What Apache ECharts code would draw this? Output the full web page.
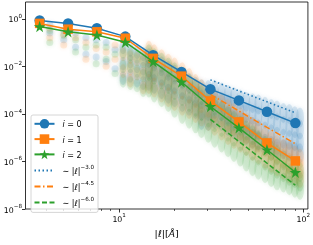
<!DOCTYPE html>
<html><head><meta charset="utf-8">
<script src="https://cdn.jsdelivr.net/npm/echarts@6/dist/echarts.min.js"></script>
<style>html,body{margin:0;padding:0;background:#fff}#c{width:313px;height:245px}</style>
</head><body><div id="c"></div><script>
// binned curves
const xBins = [3.7, 5.28, 7.57, 10.8, 15.3, 21.8, 31.3, 44.7, 63.5, 90.6];
const i0 = [0.85, 0.64, 0.40, 0.178, 0.0295, 0.0058, 0.0011, 3.7e-4, 1.23e-4, 4.1e-5];
const i1 = [0.64, 0.366, 0.283, 0.152, 0.0217, 0.00387, 3.5e-4, 4.6e-5, 6.0e-6, 1.05e-6];
const i2 = [0.47, 0.283, 0.208, 0.104, 0.0159, 0.0022, 2.05e-4, 2.6e-5, 3.1e-6, 3.5e-7];
// reference power laws
const refX = [31.3, 90.6];
const ref30 = [2.7e-3, 1.11e-4];
const ref45 = [6.6e-4, 5.5e-6];
const ref60 = [5.9e-5, 1.0e-7];
// ticks
const yTicks = [1e-8, 1e-6, 1e-4, 1e-2, 1];
const xTicks = [10, 100];
const xMinorTicks = [4, 5, 6, 7, 8, 9, 20, 30, 40, 50, 60, 70, 80, 90];
// background clouds (columns of points)
const cloudX = [4.2, 5, 5.8, 6.6, 7.5, 8.5, 9.5, 10.5, 11.5, 12.5, 13.5, 14.5, 15.5, 17, 18.5, 20, 22, 24, 26, 28, 30.5, 33, 36, 39, 42, 45.5, 49, 53, 57, 62, 67, 72, 78, 84, 90, 96];
const cloud0 = [
 [0.56, 0.25], [0.32, 0.13], [0.25, 0.063], [0.16, 0.032], [0.13, 0.025], [0.1, 0.016], [0.05, 0.008],
 [0.063, 0.013, 0.0032], [0.05, 0.016, 0.004], [0.04, 0.01, 0.0025], [0.032, 0.008, 0.002],
 [0.022, 0.0079, 0.0025], [0.016, 0.0056, 0.0018], [0.01, 0.0035, 0.0011], [0.0063, 0.0022, 7.1e-4],
 [0.0045, 0.0016, 5e-4], [0.0028, 1e-3, 3.2e-4], [0.002, 7.1e-4, 2.2e-4], [0.0014, 5e-4, 1.6e-4],
 [1.1e-3, 4e-4, 1.4e-4, 5.6e-5], [1e-3, 3.5e-4, 1.3e-4, 5e-5], [1e-3, 4e-4, 1.6e-4, 6.3e-5],
 [7.9e-4, 3.2e-4, 1.3e-4, 5e-5], [6.3e-4, 2.5e-4, 8.9e-5, 3.2e-5], [5e-4, 1.8e-4, 6.3e-5, 2.2e-5],
 [4e-4, 1.4e-4, 5e-5, 1.6e-5], [3.2e-4, 1.1e-4, 3.5e-5, 1.3e-5], [2.8e-4, 8.9e-5, 2.8e-5, 8.9e-6],
 [2.5e-4, 7.9e-5, 2.2e-5, 7.1e-6], [2e-4, 6.3e-5, 1.8e-5, 5.6e-6], [1.6e-4, 5e-5, 1.4e-5, 4.5e-6],
 [1.4e-4, 4e-5, 1.1e-5, 3.5e-6], [1.1e-4, 3.2e-5, 8.9e-6, 3.2e-6], [1e-4, 2.8e-5, 7.9e-6, 2.8e-6],
 [7.9e-5, 2.5e-5, 7.1e-6, 2.5e-6], [7.1e-5, 2.2e-5, 6.3e-6, 2.2e-6]
];
const cloud1 = [
 [0.4, 0.16], [0.22, 0.079], [0.16], [0.1, 0.02], [0.056], [0.04, 0.01], [0.079, 0.02],
 [0.032, 0.0063], [0.025, 0.0079, 0.0025], [0.02, 0.005], [0.02, 0.005, 0.0013],
 [0.045, 0.0089, 0.0018], [0.032, 0.0063, 0.0013], [0.02, 0.004, 7.9e-4], [0.013, 0.0025, 5e-4],
 [0.0089, 0.0018, 3.5e-4], [0.0056, 0.0011, 2.2e-4], [0.0032, 7.1e-4, 1.6e-4], [0.0018, 4.5e-4, 1.1e-4],
 [0.0011, 2.8e-4, 7.9e-5], [6.3e-4, 1.8e-4, 5e-5], [4e-4, 1.1e-4, 3.2e-5],
 [2.5e-4, 7.1e-5, 2e-5], [1.6e-4, 4.5e-5, 1.3e-5], [1.1e-4, 3.2e-5, 8.9e-6],
 [7.1e-5, 2e-5, 6.3e-6], [4.5e-5, 1.4e-5, 4.5e-6], [2.8e-5, 8.9e-6, 2.8e-6],
 [2e-5, 6.3e-6, 2e-6], [1.1e-5, 4e-6, 1.3e-6], [7.9e-6, 2.8e-6, 8.9e-7],
 [5e-6, 2e-6, 6.3e-7], [3.5e-6, 1.3e-6, 4.5e-7], [2.5e-6, 8.9e-7, 3.2e-7],
 [1.8e-6, 6.3e-7, 2.5e-7], [1.3e-6, 5e-7, 2e-7]
];
const cloud2 = [
 [0.32, 0.1], [0.2], [0.13, 0.04], [0.063], [0.079, 0.013], [0.063, 0.02], [0.032, 0.005],
 [0.04, 0.01, 0.0025], [0.032, 0.01, 0.002], [0.025, 0.0063, 0.0016], [0.016, 0.004, 1e-3],
 [0.032, 0.0063, 0.0013], [0.022, 0.0045, 7.9e-4], [0.014, 0.0028, 5e-4], [0.0089, 0.0018, 3.2e-4],
 [0.0056, 1e-3, 1.8e-4], [0.0032, 5.6e-4, 1e-4], [0.0018, 3.2e-4, 6.3e-5], [0.0011, 2e-4, 4e-5],
 [6.3e-4, 1.3e-4, 2.5e-5], [3.5e-4, 7.1e-5, 1.6e-5], [2.2e-4, 4.5e-5, 1e-5],
 [1.3e-4, 2.8e-5, 6.3e-6], [7.9e-5, 1.8e-5, 4e-6], [5e-5, 1.1e-5, 2.5e-6],
 [3.2e-5, 7.1e-6, 1.6e-6], [2e-5, 4.5e-6, 1e-6], [1.3e-5, 2.8e-6, 6.3e-7],
 [7.9e-6, 1.8e-6, 4.5e-7], [4.5e-6, 1.1e-6, 3.2e-7], [2.8e-6, 7.1e-7, 2.2e-7],
 [1.8e-6, 5e-7, 1.6e-7], [1.1e-6, 3.5e-7, 1.3e-7], [7.1e-7, 2.5e-7, 1e-7],
 [5e-7, 2e-7, 7.9e-8], [3.5e-7, 1.4e-7, 6.3e-8]
];

const C0 = '#1f77b4', C1 = '#ff7f0e', C2 = '#2ca02c';
const FONT = 'DejaVu Sans';
const STAR = 'path://M50,0 L61.8,35.1 L98.1,35.1 L68.7,56.8 L79.4,91.9 L50,70.2 L20.6,91.9 L31.3,56.8 L1.9,35.1 L38.2,35.1 Z';

function pairs(xs, ys) { return xs.map((x, k) => [x, ys[k]]); }
function cloudPts(cols) {
  const out = [];
  cloudX.forEach((x, k) => cols[k].forEach(y => out.push([x, y])));
  return out;
}
function cloudSize(v) { return v[0] < 10 ? 7 : (v[0] < 14 ? [7, 14] : [8, 20]); }
function cloudStyle(c, op) {
  return { color: c, opacity: op, shadowBlur: 4, shadowColor: c };
}
const supRich = {
  b: { fontFamily: FONT, fontSize: 7.8, color: '#000', verticalAlign: 'bottom', lineHeight: 11 },
  s: { fontFamily: FONT, fontSize: 5.6, color: '#000', verticalAlign: 'top', lineHeight: 6 }
};
function expLabel(v) {
  const e = Math.round(Math.log10(v));
  return '{b|10}{s|' + (e < 0 ? '\u2212' + (-e) : e) + '}';
}
const legendNames = {
  i0: '{it|i}{n| = 0}', i1: '{it|i}{n| = 1}', i2: '{it|i}{n| = 2}',
  r3: '{n|\u223C |}{it|\u2113}{n||}{s|\u22123.0}',
  r45: '{n|\u223C |}{it|\u2113}{n||}{s|\u22124.5}',
  r6: '{n|\u223C |}{it|\u2113}{n||}{s|\u22126.0}'
};

const chart = echarts.init(document.getElementById('c'), null, { renderer: 'canvas' });
chart.setOption({
  animation: false,
  backgroundColor: '#fff',
  grid: { show: true, borderColor: '#000', borderWidth: 0.8, backgroundColor: 'transparent', left: 25.5, top: 2, right: 4, bottom: 30 },
  xAxis: [{
    type: 'log', min: 3.1, max: 106, logBase: 10,
    axisLine: { show: false }, splitLine: { show: false },
    axisTick: { show: true, length: 3.5, lineStyle: { color: '#000', width: 0.8 }, customValues: xTicks },
    axisLabel: { customValues: xTicks, formatter: expLabel, rich: supRich, margin: 4 },
    name: '{n||}{it|\u2113}{n||[}{it|\u00C5}{n|]}', nameLocation: 'middle', nameGap: 21,
    nameTextStyle: { rich: {
      n: { fontFamily: FONT, fontSize: 9.5, color: '#000' },
      it: { fontFamily: FONT, fontSize: 9.5, fontStyle: 'italic', color: '#000' } } }
  }, {
    type: 'log', min: 3.1, max: 106, logBase: 10, position: 'bottom',
    axisLine: { show: false }, splitLine: { show: false },
    axisTick: { show: true, length: 2, lineStyle: { color: '#000', width: 0.6 }, customValues: xMinorTicks },
    axisLabel: { show: false }
  }],
  yAxis: {
    type: 'log', min: 1e-8, max: 5.08, logBase: 10,
    axisLine: { show: false }, splitLine: { show: false },
    axisTick: { show: true, length: 3.5, lineStyle: { color: '#000', width: 0.8 }, customValues: yTicks },
    axisLabel: { customValues: yTicks, formatter: expLabel, rich: supRich, margin: 3.5 }
  },
  legend: {
    orient: 'vertical', left: 31, top: 115,
    padding: [4, 4, 4.5, 2.5], itemGap: 5, itemWidth: 20, itemHeight: 12,
    backgroundColor: 'rgba(255,255,255,0.8)', borderColor: '#ccc', borderWidth: 0.8, borderRadius: 2,
    data: ['i0', 'i1', 'i2',
      { name: 'r3', itemStyle: { opacity: 0 } },
      { name: 'r45', itemStyle: { opacity: 0 } },
      { name: 'r6', itemStyle: { opacity: 0 } }],
    formatter: n => legendNames[n],
    textStyle: { padding: [0, 0, 0, 3], rich: {
      n: { fontFamily: FONT, fontSize: 8, color: '#000', verticalAlign: 'bottom', lineHeight: 11 },
      it: { fontFamily: FONT, fontSize: 8, fontStyle: 'italic', color: '#000', verticalAlign: 'bottom', lineHeight: 11 },
      s: { fontFamily: FONT, fontSize: 5.6, color: '#000', verticalAlign: 'top', lineHeight: 6 } } }
  },
  series: [
    { type: 'scatter', name: 'c0', data: cloudPts(cloud0), symbol: 'circle', symbolSize: cloudSize, itemStyle: cloudStyle(C0, 0.13), z: 1, silent: true },
    { type: 'scatter', name: 'c1', data: cloudPts(cloud1), symbol: 'circle', symbolSize: cloudSize, itemStyle: cloudStyle(C1, 0.12), z: 1, silent: true },
    { type: 'scatter', name: 'c2', data: cloudPts(cloud2), symbol: 'circle', symbolSize: cloudSize, itemStyle: cloudStyle(C2, 0.12), z: 1, silent: true },
    { type: 'line', name: 'r3', data: pairs(refX, ref30), showSymbol: false, symbol: 'none', lineStyle: { color: C0, width: 1.5, type: [1.5, 2.5] }, itemStyle: { color: C0, opacity: 0 }, z: 3 },
    { type: 'line', name: 'r45', data: pairs(refX, ref45), showSymbol: false, symbol: 'none', lineStyle: { color: C1, width: 1.5, type: [6, 2.5, 1.5, 2.5] }, itemStyle: { color: C1, opacity: 0 }, z: 3 },
    { type: 'line', name: 'r6', data: pairs(refX, ref60), showSymbol: false, symbol: 'none', lineStyle: { color: C2, width: 1.5, type: [5, 2.5] }, itemStyle: { color: C2, opacity: 0 }, z: 3 },
    { type: 'line', name: 'i0', data: pairs(xBins, i0), symbol: 'circle', symbolSize: 10.5, lineStyle: { color: C0, width: 1.5 }, itemStyle: { color: C0 }, z: 4 },
    { type: 'line', name: 'i1', data: pairs(xBins, i1), symbol: 'rect', symbolSize: 9.5, lineStyle: { color: C1, width: 1.5 }, itemStyle: { color: C1 }, z: 5 },
    { type: 'line', name: 'i2', data: pairs(xBins, i2), symbol: STAR, symbolSize: 11.5, lineStyle: { color: C2, width: 1.5 }, itemStyle: { color: C2 }, z: 6 }
  ]
});
</script></body></html>
